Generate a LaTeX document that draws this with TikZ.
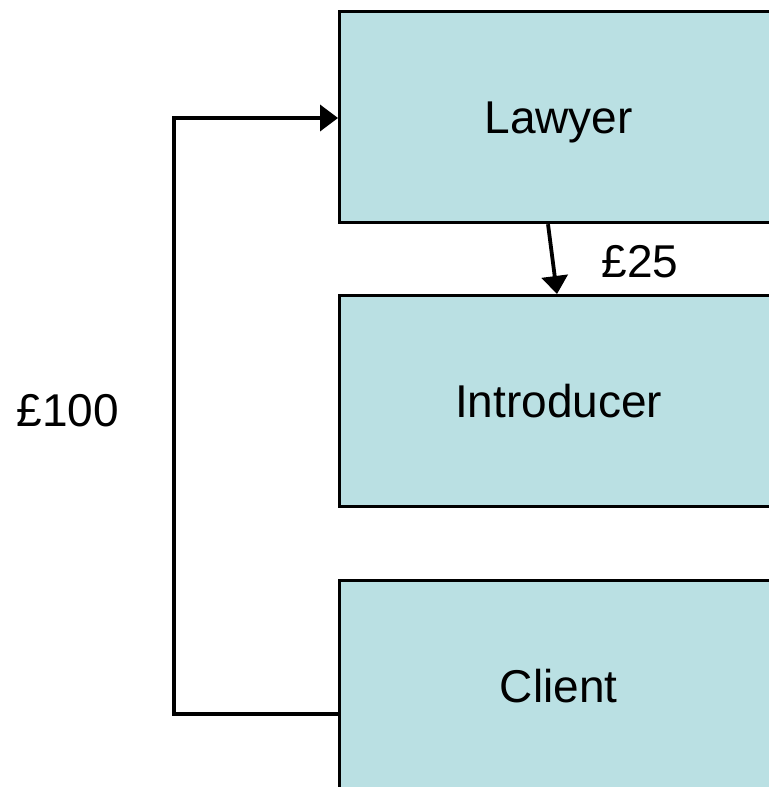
\documentclass[tikz,border=0pt]{standalone}
\usepackage{fontspec}
\setmainfont{Liberation Sans}
\usetikzlibrary{arrows.meta,calc}
\definecolor{boxfill}{RGB}{186,224,227}
\tikzset{
  every node/.style={font=\fontsize{46bp}{50bp}\selectfont},
  entity/.style={draw=black, line width=3.2bp, fill=boxfill, minimum width=438bp, minimum height=211bp,
    inner sep=0pt, text height=33bp, text depth=0pt, anchor=north west},
  flow/.style={line width=3.8bp, -{Triangle[length=18bp,width=26bp]}},
  amount/.style={anchor=base, inner sep=0pt}
}
\begin{document}
\begin{tikzpicture}[x=1bp,y=-1bp]
  \useasboundingbox (0,0) rectangle (769,787);
  \clip (0,0) rectangle (769,787);
  \fill[white] (0,0) rectangle (769,787);
  \node[entity] (lawyer) at (338,10) {Lawyer};
  \node[entity] (intro) at (338,294) {Introducer};
  \node[entity] (client) at (338,579) {Client};
  \coordinate (a1) at ($(lawyer.south west)+(210bp,0)$);
  \coordinate (a2) at ($(intro.north west)+(219bp,0)$);
  \draw[flow] (a1) -- (a2);
  \coordinate (c1) at ($(client.north west)+(0,-135bp)$);
  \coordinate (k1) at (174,714);
  \coordinate (k2) at (174,118);
  \coordinate (l1) at ($(lawyer.north west)+(0,-108bp)$);
  \draw[flow] (c1) -- (k1) -- (k2) -- (l1);
  \node[amount] (p25) at (640,277) {£25};
  \node[amount] (p100) at (68,426) {£100};
\end{tikzpicture}
\end{document}
